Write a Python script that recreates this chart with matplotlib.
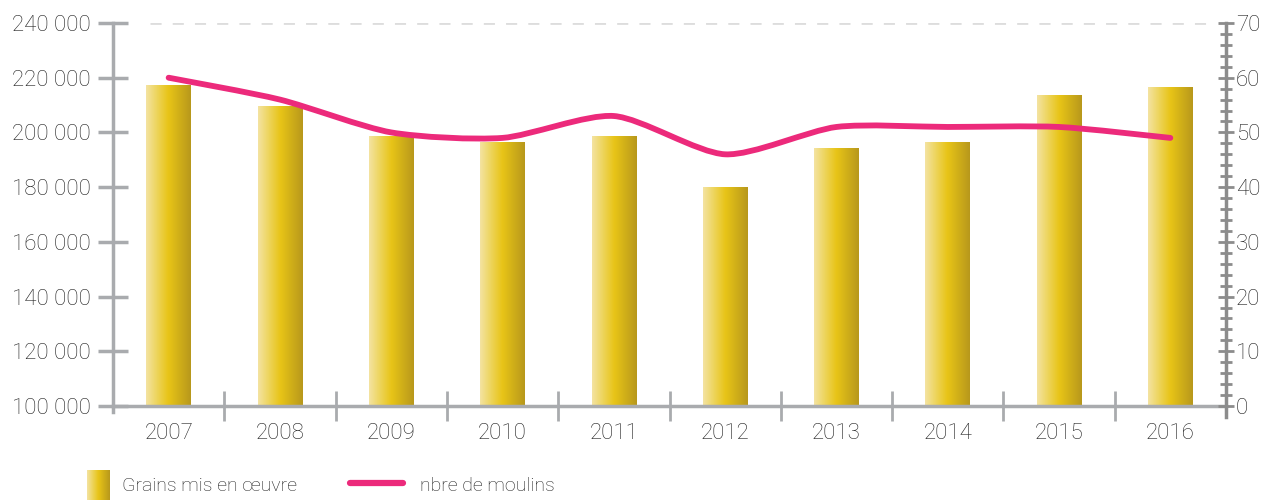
import numpy as np
import matplotlib
matplotlib.use("Agg")
import matplotlib.pyplot as plt
from matplotlib.path import Path
from matplotlib.patches import PathPatch
from matplotlib.lines import Line2D
from matplotlib.colors import LinearSegmentedColormap
from matplotlib.ticker import FuncFormatter, MultipleLocator, FixedLocator

years = ["2007", "2008", "2009", "2010", "2011", "2012", "2013", "2014", "2015", "2016"]
grains = [217000, 209500, 198500, 196500, 198500, 180000, 194000, 196500, 213500, 216500]
moulins = [60, 56, 50, 49, 53, 46, 51, 51, 51, 49]

plt.rcParams['font.family'] = ['Roboto', 'DejaVu Sans']
plt.rcParams['font.weight'] = 'light'
txt_color = "#1f1f1f"
fs = 16
fs_leg = 14

fig = plt.figure(figsize=(12.64, 5.0), dpi=100)
ax = fig.add_axes([113/1264, 1-406/500, (1226-113)/1264, (406-23)/500])
ax2 = ax.twinx()

gold = LinearSegmentedColormap.from_list("gold", ["#F4E3A2", "#EDD45A", "#E8C417", "#CFAE19", "#B8981C"])
grad = np.linspace(0, 1, 256).reshape(1, -1)

x = np.arange(len(years))
bw = 0.4
bars = ax.bar(x, grains, width=bw, bottom=0, color="none", zorder=2)
for b in bars:
    x0 = b.get_x()
    ax.imshow(grad, cmap=gold, aspect="auto", extent=[x0, x0 + b.get_width(), 100000, b.get_height()],
              zorder=2, interpolation="bilinear")

ax.set_xlim(-0.5, len(years) - 0.5)
ax.set_ylim(100000, 240000)

# dashed gridline at top
ax.axhline(240000, xmin=0.033, xmax=0.985, color="#DDDDDD", lw=2, ls=(0, (4, 4)), zorder=1)

spine_c = "#A9ABAE"
for s in ["top", "right"]:
    ax.spines[s].set_visible(False)
ax.spines["left"].set_color(spine_c)
ax.spines["left"].set_linewidth(2.5)
ax.spines["left"].set_bounds(97800, 240000)
ax.spines["bottom"].set_color(spine_c)
ax.spines["bottom"].set_linewidth(2.5)

ax.yaxis.set_major_locator(MultipleLocator(20000))
ax.yaxis.set_major_formatter(FuncFormatter(lambda v, p: f"{int(v):,}".replace(",", " ")))
ax.tick_params(axis="y", direction="inout", length=22, width=2.5, color=spine_c,
               labelsize=fs, labelcolor=txt_color, pad=5)

ax.xaxis.set_major_locator(FixedLocator(x))
ax.set_xticklabels(years)
ax.xaxis.set_minor_locator(FixedLocator(np.arange(0.5, len(years) - 1, 1.0)))
ax.tick_params(axis="x", which="major", length=0, labelsize=fs, labelcolor=txt_color, pad=12)
ax.tick_params(axis="x", which="minor", direction="inout", length=22, width=2, color=spine_c)

# right axis
ax2.set_ylim(0, 70)
for s in ["top", "left", "bottom"]:
    ax2.spines[s].set_visible(False)
ax2.spines["right"].set_color("#8C8C8C")
ax2.spines["right"].set_linewidth(2.5)
ax2.spines["right"].set_bounds(-2, 70)
ax2.yaxis.set_major_locator(MultipleLocator(10))
ax2.yaxis.set_minor_locator(MultipleLocator(2))
ax2.tick_params(axis="y", which="major", direction="inout", length=12, width=2, color="#8C8C8C",
                labelsize=fs, labelcolor=txt_color, pad=1)
ax2.tick_params(axis="y", which="minor", direction="inout", length=8, width=2, color="#8C8C8C")

# lightly smoothed line (Catmull-Rom -> cubic Bezier) through data points
pts = np.column_stack([x, moulins]).astype(float)
verts = [tuple(pts[0])]
codes = [Path.MOVETO]
n = len(pts)
k = 8.0
for i in range(n - 1):
    p0 = pts[i - 1] if i > 0 else pts[i]
    p1 = pts[i]
    p2 = pts[i + 1]
    p3 = pts[i + 2] if i + 2 < n else pts[i + 1]
    c1 = p1 + (p2 - p0) / k
    c2 = p2 - (p3 - p1) / k
    verts += [tuple(c1), tuple(c2), tuple(p2)]
    codes += [Path.CURVE4] * 3
line_color = "#EC2A7B"
ax2.add_patch(PathPatch(Path(verts, codes), facecolor="none", edgecolor=line_color, lw=4.2,
                        capstyle="round", zorder=5))

# legend
lax = fig.add_axes([87/1264, 0, 23/1264, 30/500])
lax.imshow(grad, cmap=gold, aspect="auto", extent=[0, 1, 0, 1], interpolation="bilinear")
lax.set_axis_off()
fig.text(122/1264, 1-486/500, "Grains mis en œuvre", fontsize=fs_leg, color=txt_color, va="center")
fig.add_artist(Line2D([350/1264, 403/1264], [1-483/500, 1-483/500], color=line_color, lw=4.5,
                      solid_capstyle="round"))
fig.text(420/1264, 1-486/500, "nbre de moulins", fontsize=fs_leg, color=txt_color, va="center")

fig.savefig("out.png", dpi=100)
